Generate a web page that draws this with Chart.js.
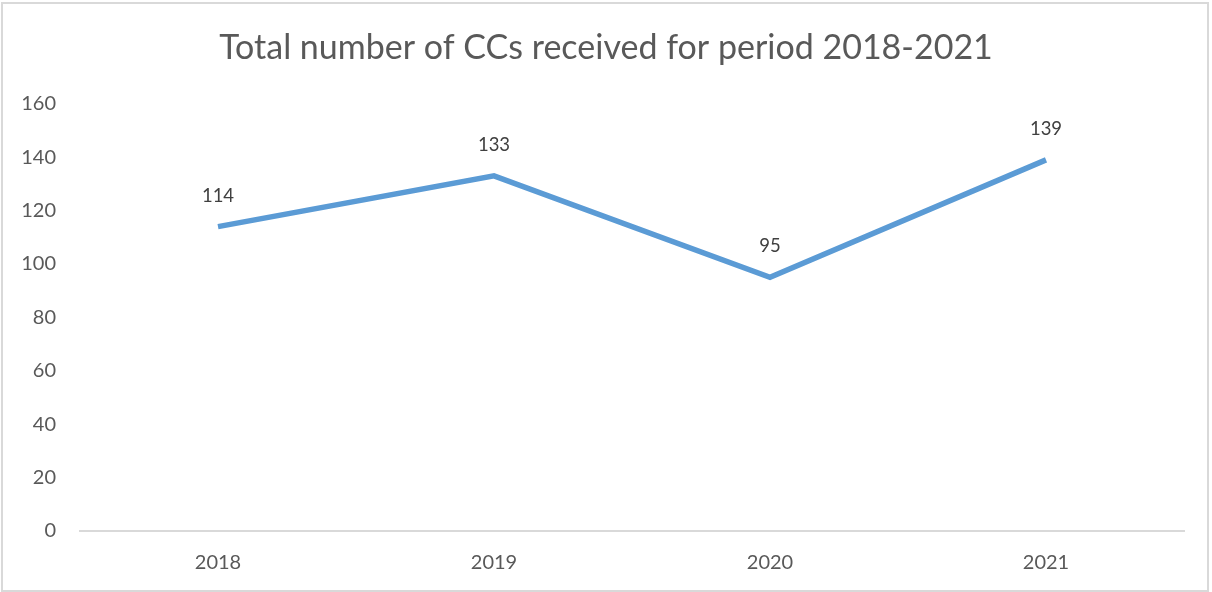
<!DOCTYPE html>
<html>
<head>
<meta charset="utf-8">
<script src="https://cdn.jsdelivr.net/npm/chart.js@4"></script>
<style>
  html, body { margin: 0; padding: 0; background: #fff; }
  #wrap { position: relative; width: 1212px; height: 592px; }
  #frame {
    position: absolute; left: 1px; top: 2px; width: 1204px; height: 586px;
    border: 2px solid #d9d9d9; pointer-events: none;
  }
  canvas { display: block; }
</style>
</head>
<body>
<div id="wrap">
  <canvas id="ccChart" width="1212" height="592"></canvas>
  <div id="frame"></div>
</div>
<script>
  const years = ["2018", "2019", "2020", "2021"];
  const ccCounts = [114, 133, 95, 139];
  const chartTitle = "Total number of CCs received for period 2018-2021";

  const fontFamily = "Lato, 'Open Sans', sans-serif";

  // value labels above each point
  const pointLabels = {
    id: "pointLabels",
    afterDatasetsDraw(chart) {
      const ctx = chart.ctx;
      const meta = chart.getDatasetMeta(0);
      ctx.save();
      ctx.font = "18.5px " + fontFamily;
      ctx.fillStyle = "#404040";
      ctx.textAlign = "center";
      ctx.textBaseline = "middle";
      meta.data.forEach((pt, i) => {
        ctx.fillText(String(ccCounts[i]), pt.x, pt.y - 31);
      });
      ctx.restore();
    }
  };

  const ctx = document.getElementById("ccChart").getContext("2d");

  new Chart(ctx, {
    type: "line",
    data: {
      labels: years,
      datasets: [{
        label: "CCs",
        data: ccCounts,
        borderColor: "#5b9bd5",
        borderWidth: 5.5,
        pointRadius: 0,
        tension: 0,
        fill: false
      }]
    },
    options: {
      responsive: false,
      animation: false,
      layout: { padding: 0 },
      plugins: {
        legend: { display: false },
        tooltip: { enabled: false },
        title: {
          display: true,
          text: chartTitle,
          color: "#595959",
          font: { family: fontFamily, size: 34, weight: "normal" },
          padding: { top: 28, bottom: 35 }
        }
      },
      scales: {
        x: {
          offset: true,
          grid: { display: false, drawTicks: false },
          border: { display: true, color: "#d9d9d9", width: 2 },
          ticks: {
            color: "#595959",
            font: { family: fontFamily, size: 20 },
            padding: 20
          },
          afterFit(scale) { scale.height = 61; }
        },
        y: {
          min: 0,
          max: 160,
          grid: { display: false, drawTicks: false },
          border: { display: false },
          ticks: {
            stepSize: 20,
            color: "#595959",
            font: { family: fontFamily, size: 20 },
            padding: 24
          },
          afterFit(scale) { scale.width = 80; }
        },
        // empty right margin so the title stays centred on the canvas
        yRight: {
          position: "right",
          grid: { display: false, drawTicks: false },
          border: { display: false },
          ticks: { display: false },
          afterFit(scale) { scale.width = 28; }
        }
      }
    },
    plugins: [pointLabels]
  });
</script>
</body>
</html>
